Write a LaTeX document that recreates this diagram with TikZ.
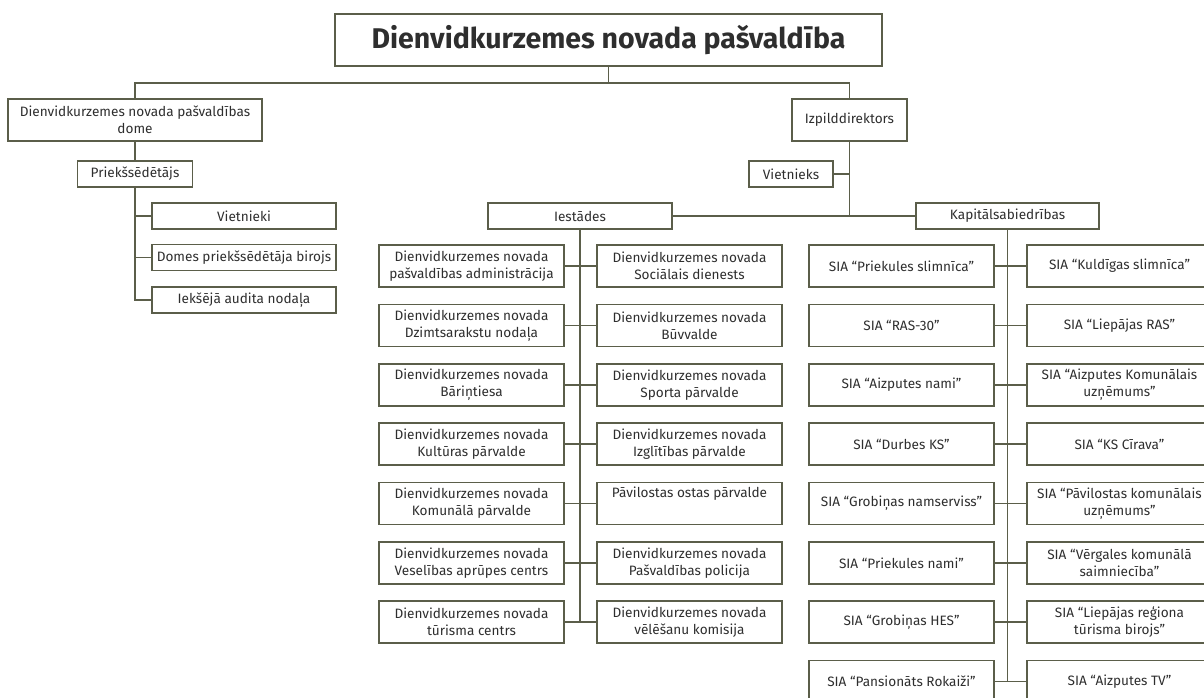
\documentclass[tikz,border=0pt]{standalone}
\usepackage{fontspec}
\setmainfont{Fira Sans}
\usepackage{xcolor}
\usepackage{tikz}
\definecolor{linija}{HTML}{5B5E4A}
\definecolor{teksts}{HTML}{2E2E2E}

\begin{document}
\begin{tikzpicture}[x=1pt,y=-1pt]
        \tikzstyle{every node}=[draw=linija,line width=1.8pt,text=teksts,align=center,inner sep=0pt,font=\fontsize{13.6}{17}\selectfont]
        \tikzstyle{savienojums}=[linija,line width=1.8pt]
        \tikzstyle{plats}=[minimum width=185pt,minimum height=42pt]
        \tikzstyle{mazs}=[minimum height=26pt]
        \useasboundingbox (0,0) rectangle (1204,697);
        \node (pasv) at (608.5,40) [minimum width=547pt,minimum height=52pt,font=\fontsize{28.5}{32}\selectfont\bfseries] {Dienvidkurzemes novada pašvaldība};
        \coordinate (zars) at (608.5,83);
        \node (dome) at (135,120) [minimum width=254pt,minimum height=42pt] {Dienvidkurzemes novada pašvaldības\\dome};
        \node (priek) at (135,174) [mazs,minimum width=115pt] {Priekšsēdētājs};
        \node (vietnieki) at (244,216) [mazs,minimum width=184pt] {Vietnieki};
        \node (birojs) at (244,257.5) [mazs,minimum width=184pt] {Domes priekšsēdētāja birojs};
        \node (audits) at (244,300) [mazs,minimum width=184pt] {Iekšējā audita nodaļa};
        \node (izpild) at (849.5,120) [minimum width=115pt,minimum height=42pt] {Izpilddirektors};
        \node (vietnieks) at (791,174) [mazs,minimum width=84pt] {Vietnieks};
        \node (iestades) at (580,216) [mazs,minimum width=184pt] {Iestādes};
        \node (kapital) at (1007.5,216) [mazs,minimum width=183pt] {Kapitālsabiedrības};
        \node (i1a) at (471.5,266) [plats] {Dienvidkurzemes novada\\pašvaldības administrācija};
        \node (i1b) at (689.5,266) [plats] {Dienvidkurzemes novada\\Sociālais dienests};
        \node (i2a) at (471.5,325.5) [plats] {Dienvidkurzemes novada\\Dzimtsarakstu nodaļa};
        \node (i2b) at (689.5,325.5) [plats] {Dienvidkurzemes novada\\Būvvalde};
        \node (i3a) at (471.5,385) [plats] {Dienvidkurzemes novada\\Bāriņtiesa};
        \node (i3b) at (689.5,385) [plats] {Dienvidkurzemes novada\\Sporta pārvalde};
        \node (i4a) at (471.5,444) [plats] {Dienvidkurzemes novada\\Kultūras pārvalde};
        \node (i4b) at (689.5,444) [plats] {Dienvidkurzemes novada\\Izglītības pārvalde};
        \node (i5a) at (471.5,503.5) [plats] {Dienvidkurzemes novada\\Komunālā pārvalde};
        \node (i5b) at (689.5,503.5) [plats] {Pāvilostas ostas pārvalde\\\strut};
        \node (i6a) at (471.5,563) [plats] {Dienvidkurzemes novada\\Veselības aprūpes centrs};
        \node (i6b) at (689.5,563) [plats] {Dienvidkurzemes novada\\Pašvaldības policija};
        \node (i7a) at (471.5,622) [plats] {Dienvidkurzemes novada\\tūrisma centrs};
        \node (i7b) at (689.5,622) [plats] {Dienvidkurzemes novada\\vēlēšanu komisija};
        \node (k1a) at (901.5,266) [plats] {SIA “Priekules slimnīca”};
        \node (k1b) at (1119.5,266) [plats] {SIA “Kuldīgas slimnīca”};
        \node (k2a) at (901.5,325.5) [plats] {SIA “RAS-30”};
        \node (k2b) at (1119.5,325.5) [plats] {SIA “Liepājas RAS”};
        \node (k3a) at (901.5,385) [plats] {SIA “Aizputes nami”};
        \node (k3b) at (1119.5,385) [plats] {SIA “Aizputes Komunālais\\uzņēmums”};
        \node (k4a) at (901.5,444) [plats] {SIA “Durbes KS”};
        \node (k4b) at (1119.5,444) [plats] {SIA “KS Cīrava”};
        \node (k5a) at (901.5,503.5) [plats] {SIA “Grobiņas namserviss”};
        \node (k5b) at (1119.5,503.5) [plats] {SIA “Pāvilostas komunālais\\uzņēmums”};
        \node (k6a) at (901.5,563) [plats] {SIA “Priekules nami”};
        \node (k6b) at (1119.5,563) [plats] {SIA “Vērgales komunālā\\saimniecība”};
        \node (k7a) at (901.5,622) [plats] {SIA “Grobiņas HES”};
        \node (k7b) at (1119.5,622) [plats] {SIA “Liepājas reģiona\\tūrisma birojs”};
        \node (k8a) at (901.5,681.5) [plats] {SIA “Pansionāts Rokaiži”};
        \node (k8b) at (1119.5,681.5) [plats] {SIA “Aizputes TV”};
        \draw[savienojums] (pasv.south) -- (zars);
        \draw[savienojums] (dome.north) |- (zars) -| (izpild.north);
        \draw[savienojums] (dome.south) -- (priek.north);
        \draw[savienojums] (priek.south) |- (vietnieki.west);
        \draw[savienojums] (priek.south) |- (birojs.west);
        \draw[savienojums] (priek.south) |- (audits.west);
        \draw[savienojums] (izpild.south) |- (vietnieks.east);
        \draw[savienojums] (izpild.south) -- (izpild.south |- kapital.west);
        \draw[savienojums] (iestades.east) -- (kapital.west);
        \draw[savienojums] (iestades.south) -- (iestades.south |- i7a.east);
        \draw[savienojums] (kapital.south) -- (kapital.south |- k8a.east);
        \foreach \n in {1,...,7}
            \draw[savienojums] (i\n a.east) -- (i\n b.west);
        \foreach \n in {1,...,8}
            \draw[savienojums] (k\n a.east) -- (k\n b.west);
    \end{tikzpicture}
\end{document}
